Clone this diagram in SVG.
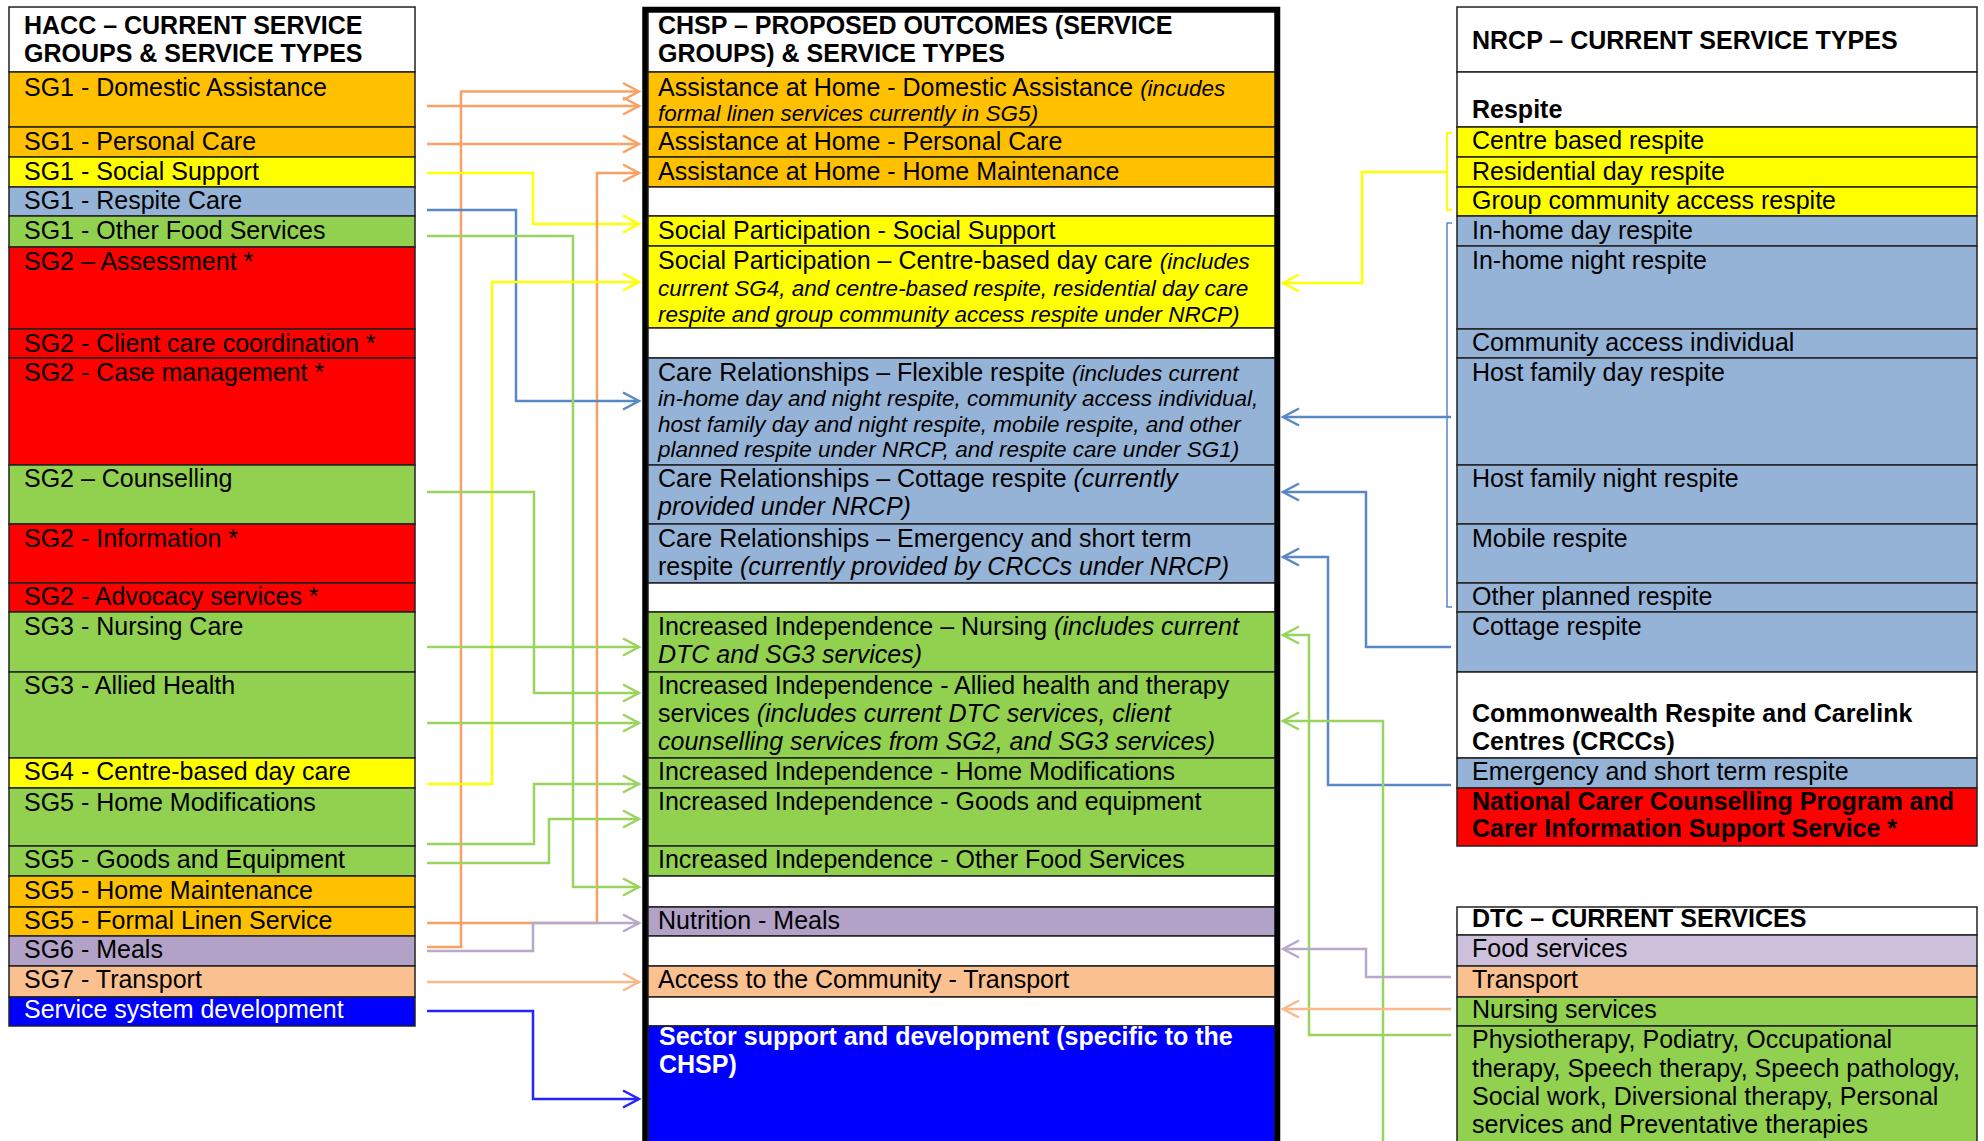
<svg xmlns="http://www.w3.org/2000/svg" width="1984" height="1141" viewBox="0 0 1984 1141">
<style>
text{font-family:"Liberation Sans",Arial,sans-serif;font-size:25px;fill:#000}
.b{font-weight:bold}
.i{font-style:italic;font-size:22.5px}
.il{font-style:italic}
.w{fill:#fff}
.row{stroke:#222;stroke-width:1.5}
.or{fill:#FFC000}.ye{fill:#FFFF00}.bl{fill:#95B3D7}.gr{fill:#92D050}.rd{fill:#FF0000}.pu{fill:#B3A2C7}.pe{fill:#FAC090}.db{fill:#0000FF}.lv{fill:#CCC0DA}.wh{fill:#fff}
.c{fill:none;stroke-width:2.5}
.cor{stroke:#F9A062}.cye{stroke:#FFFF00}.cbl{stroke:#5A88C4}.cgr{stroke:#98D45E}.cpu{stroke:#B8A8CC}.cpe{stroke:#FAB98A}.cdb{stroke:#2424FF}
</style>
<defs>
<marker id="m-or" markerUnits="userSpaceOnUse" markerWidth="20" markerHeight="20" viewBox="0 0 20 20" refX="17" refY="10" orient="auto" overflow="visible"><path d="M1 1.5 L17 10 L1 18.5" fill="none" stroke="#F9A062" stroke-width="2.5"/></marker>
<marker id="m-ye" markerUnits="userSpaceOnUse" markerWidth="20" markerHeight="20" viewBox="0 0 20 20" refX="17" refY="10" orient="auto" overflow="visible"><path d="M1 1.5 L17 10 L1 18.5" fill="none" stroke="#FFFF00" stroke-width="2.5"/></marker>
<marker id="m-bl" markerUnits="userSpaceOnUse" markerWidth="20" markerHeight="20" viewBox="0 0 20 20" refX="17" refY="10" orient="auto" overflow="visible"><path d="M1 1.5 L17 10 L1 18.5" fill="none" stroke="#5A88C4" stroke-width="2.5"/></marker>
<marker id="m-gr" markerUnits="userSpaceOnUse" markerWidth="20" markerHeight="20" viewBox="0 0 20 20" refX="17" refY="10" orient="auto" overflow="visible"><path d="M1 1.5 L17 10 L1 18.5" fill="none" stroke="#98D45E" stroke-width="2.5"/></marker>
<marker id="m-pu" markerUnits="userSpaceOnUse" markerWidth="20" markerHeight="20" viewBox="0 0 20 20" refX="17" refY="10" orient="auto" overflow="visible"><path d="M1 1.5 L17 10 L1 18.5" fill="none" stroke="#B8A8CC" stroke-width="2.5"/></marker>
<marker id="m-pe" markerUnits="userSpaceOnUse" markerWidth="20" markerHeight="20" viewBox="0 0 20 20" refX="17" refY="10" orient="auto" overflow="visible"><path d="M1 1.5 L17 10 L1 18.5" fill="none" stroke="#FAB98A" stroke-width="2.5"/></marker>
<marker id="m-db" markerUnits="userSpaceOnUse" markerWidth="20" markerHeight="20" viewBox="0 0 20 20" refX="17" refY="10" orient="auto" overflow="visible"><path d="M1 1.5 L17 10 L1 18.5" fill="none" stroke="#2424FF" stroke-width="2.5"/></marker>
</defs>
<rect width="1984" height="1141" fill="#fff"/>

<!-- LEFT: HACC -->
<g id="hacc">
<g id="hacc-header"><rect class="row wh" x="9" y="7" width="406" height="65"/><text class="b" x="24" y="34">HACC – CURRENT SERVICE</text><text class="b" x="24" y="62">GROUPS &amp; SERVICE TYPES</text></g>
<g id="hacc-sg1-da"><rect class="row or" x="9" y="72" width="406" height="55"/><text x="24" y="96">SG1 - Domestic Assistance</text></g>
<g id="hacc-sg1-pc"><rect class="row or" x="9" y="127" width="406" height="30"/><text x="24" y="150">SG1 - Personal Care</text></g>
<g id="hacc-sg1-ss"><rect class="row ye" x="9" y="157" width="406" height="30"/><text x="24" y="180">SG1 - Social Support</text></g>
<g id="hacc-sg1-rc"><rect class="row bl" x="9" y="187" width="406" height="29"/><text x="24" y="209">SG1 - Respite Care</text></g>
<g id="hacc-sg1-ofs"><rect class="row gr" x="9" y="216" width="406" height="31"/><text x="24" y="239">SG1 - Other Food Services</text></g>
<g id="hacc-sg2-as"><rect class="row rd" x="9" y="247" width="406" height="82"/><text x="24" y="270">SG2 – Assessment *</text></g>
<g id="hacc-sg2-ccc"><rect class="row rd" x="9" y="329" width="406" height="29"/><text x="24" y="352">SG2 - Client care coordination *</text></g>
<g id="hacc-sg2-cm"><rect class="row rd" x="9" y="358" width="406" height="107"/><text x="24" y="381">SG2 - Case management *</text></g>
<g id="hacc-sg2-co"><rect class="row gr" x="9" y="465" width="406" height="59"/><text x="24" y="487">SG2 – Counselling</text></g>
<g id="hacc-sg2-in"><rect class="row rd" x="9" y="524" width="406" height="59"/><text x="24" y="547">SG2 - Information *</text></g>
<g id="hacc-sg2-ad"><rect class="row rd" x="9" y="583" width="406" height="29"/><text x="24" y="605">SG2 - Advocacy services *</text></g>
<g id="hacc-sg3-nc"><rect class="row gr" x="9" y="612" width="406" height="60"/><text x="24" y="635">SG3 - Nursing Care</text></g>
<g id="hacc-sg3-ah"><rect class="row gr" x="9" y="672" width="406" height="86"/><text x="24" y="694">SG3 - Allied Health</text></g>
<g id="hacc-sg4"><rect class="row ye" x="9" y="758" width="406" height="30"/><text x="24" y="780">SG4 - Centre-based day care</text></g>
<g id="hacc-sg5-hm"><rect class="row gr" x="9" y="788" width="406" height="58"/><text x="24" y="811">SG5 - Home Modifications</text></g>
<g id="hacc-sg5-ge"><rect class="row gr" x="9" y="846" width="406" height="30"/><text x="24" y="868">SG5 - Goods and Equipment</text></g>
<g id="hacc-sg5-hmn"><rect class="row or" x="9" y="876" width="406" height="31"/><text x="24" y="899">SG5 - Home Maintenance</text></g>
<g id="hacc-sg5-fl"><rect class="row or" x="9" y="907" width="406" height="29"/><text x="24" y="929">SG5 - Formal Linen Service</text></g>
<g id="hacc-sg6"><rect class="row pu" x="9" y="936" width="406" height="30"/><text x="24" y="958">SG6 - Meals</text></g>
<g id="hacc-sg7"><rect class="row pe" x="9" y="966" width="406" height="31"/><text x="24" y="988">SG7 - Transport</text></g>
<g id="hacc-ssd"><rect class="row db" x="9" y="997" width="406" height="29"/><text class="w" x="24" y="1018">Service system development</text></g>
</g>

<!-- MIDDLE: CHSP -->
<g id="chsp">
<g id="chsp-header"><rect class="row wh" x="648" y="12" width="627" height="60"/><text class="b" x="658" y="34">CHSP – PROPOSED OUTCOMES (SERVICE</text><text class="b" x="658" y="62">GROUPS) &amp; SERVICE TYPES</text></g>
<g id="chsp-ah-da"><rect class="row or" x="648" y="72" width="627" height="55"/><text x="658" y="96">Assistance at Home - Domestic Assistance <tspan class="i">(incudes</tspan></text><text class="i" x="658" y="121">formal linen services currently in SG5)</text></g>
<g id="chsp-ah-pc"><rect class="row or" x="648" y="127" width="627" height="30"/><text x="658" y="150">Assistance at Home - Personal Care</text></g>
<g id="chsp-ah-hm"><rect class="row or" x="648" y="157" width="627" height="30"/><text x="658" y="180">Assistance at Home - Home Maintenance</text></g>
<g id="chsp-blank1"><rect class="row wh" x="648" y="187" width="627" height="29"/></g>
<g id="chsp-sp-ss"><rect class="row ye" x="648" y="216" width="627" height="30"/><text x="658" y="239">Social Participation - Social Support</text></g>
<g id="chsp-sp-cb"><rect class="row ye" x="648" y="246" width="627" height="82"/><text x="658" y="269">Social Participation – Centre-based day care <tspan class="i">(includes</tspan></text><text class="i" x="658" y="296">current SG4, and centre-based respite, residential day care</text><text class="i" x="658" y="322">respite and group community access respite under NRCP)</text></g>
<g id="chsp-blank2"><rect class="row wh" x="648" y="328" width="627" height="30"/></g>
<g id="chsp-cr-fr"><rect class="row bl" x="648" y="358" width="627" height="107"/><text x="658" y="381">Care Relationships – Flexible respite <tspan class="i">(includes current</tspan></text><text class="i" x="658" y="406">in-home day and night respite, community access individual,</text><text class="i" x="658" y="432">host family day and night respite, mobile respite, and other</text><text class="i" x="658" y="457">planned respite under NRCP, and respite care under SG1)</text></g>
<g id="chsp-cr-cr"><rect class="row bl" x="648" y="465" width="627" height="59"/><text x="658" y="487">Care Relationships – Cottage respite <tspan class="il">(currently</tspan></text><text class="il" x="658" y="515">provided under NRCP)</text></g>
<g id="chsp-cr-es"><rect class="row bl" x="648" y="524" width="627" height="59"/><text x="658" y="547">Care Relationships – Emergency and short term</text><text x="658" y="575">respite <tspan class="il">(currently provided by CRCCs under NRCP)</tspan></text></g>
<g id="chsp-blank3"><rect class="row wh" x="648" y="583" width="627" height="29"/></g>
<g id="chsp-ii-n"><rect class="row gr" x="648" y="612" width="627" height="60"/><text x="658" y="635">Increased Independence – Nursing <tspan class="il">(includes current</tspan></text><text class="il" x="658" y="663">DTC and SG3 services)</text></g>
<g id="chsp-ii-ah"><rect class="row gr" x="648" y="672" width="627" height="86"/><text x="658" y="694">Increased Independence - Allied health and therapy</text><text x="658" y="722">services <tspan class="il">(includes current DTC services, client</tspan></text><text class="il" x="658" y="750">counselling services from SG2, and SG3 services)</text></g>
<g id="chsp-ii-hm"><rect class="row gr" x="648" y="758" width="627" height="30"/><text x="658" y="780">Increased Independence - Home Modifications</text></g>
<g id="chsp-ii-ge"><rect class="row gr" x="648" y="788" width="627" height="58"/><text x="658" y="810">Increased Independence - Goods and equipment</text></g>
<g id="chsp-ii-of"><rect class="row gr" x="648" y="846" width="627" height="30"/><text x="658" y="868">Increased Independence - Other Food Services</text></g>
<g id="chsp-blank4"><rect class="row wh" x="648" y="876" width="627" height="31"/></g>
<g id="chsp-nm"><rect class="row pu" x="648" y="907" width="627" height="29"/><text x="658" y="929">Nutrition - Meals</text></g>
<g id="chsp-blank5"><rect class="row wh" x="648" y="936" width="627" height="30"/></g>
<g id="chsp-ac"><rect class="row pe" x="648" y="966" width="627" height="31"/><text x="658" y="988">Access to the Community - Transport</text></g>
<g id="chsp-blank6"><rect class="row wh" x="648" y="997" width="627" height="29"/></g>
<g id="chsp-ssd"><rect class="row db" x="648" y="1026" width="627" height="125"/><text class="b w" x="659" y="1045">Sector support and development (specific to the</text><text class="b w" x="659" y="1073">CHSP)</text></g>
<rect x="645" y="9.5" width="632.5" height="1150" fill="none" stroke="#000" stroke-width="5.5"/>
</g>

<!-- RIGHT: NRCP -->
<g id="nrcp">
<g id="nrcp-header"><rect class="row wh" x="1457" y="7" width="520" height="65"/><text class="b" x="1472" y="49">NRCP – CURRENT SERVICE TYPES</text></g>
<g id="nrcp-respite"><rect class="row wh" x="1457" y="72" width="520" height="55"/><text class="b" x="1472" y="118">Respite</text></g>
<g id="nrcp-cbr"><rect class="row ye" x="1457" y="127" width="520" height="30"/><text x="1472" y="149">Centre based respite</text></g>
<g id="nrcp-rdr"><rect class="row ye" x="1457" y="157" width="520" height="30"/><text x="1472" y="180">Residential day respite</text></g>
<g id="nrcp-gcar"><rect class="row ye" x="1457" y="187" width="520" height="29"/><text x="1472" y="209">Group community access respite</text></g>
<g id="nrcp-ihdr"><rect class="row bl" x="1457" y="216" width="520" height="30"/><text x="1472" y="239">In-home day respite</text></g>
<g id="nrcp-ihnr"><rect class="row bl" x="1457" y="246" width="520" height="83"/><text x="1472" y="269">In-home night respite</text></g>
<g id="nrcp-cai"><rect class="row bl" x="1457" y="329" width="520" height="29"/><text x="1472" y="351">Community access individual</text></g>
<g id="nrcp-hfdr"><rect class="row bl" x="1457" y="358" width="520" height="107"/><text x="1472" y="381">Host family day respite</text></g>
<g id="nrcp-hfnr"><rect class="row bl" x="1457" y="465" width="520" height="59"/><text x="1472" y="487">Host family night respite</text></g>
<g id="nrcp-mr"><rect class="row bl" x="1457" y="524" width="520" height="59"/><text x="1472" y="547">Mobile respite</text></g>
<g id="nrcp-opr"><rect class="row bl" x="1457" y="583" width="520" height="29"/><text x="1472" y="605">Other planned respite</text></g>
<g id="nrcp-cr"><rect class="row bl" x="1457" y="612" width="520" height="60"/><text x="1472" y="635">Cottage respite</text></g>
<g id="nrcp-crcc"><rect class="row wh" x="1457" y="672" width="520" height="86"/><text class="b" x="1472" y="722">Commonwealth Respite and Carelink</text><text class="b" x="1472" y="750">Centres (CRCCs)</text></g>
<g id="nrcp-esr"><rect class="row bl" x="1457" y="758" width="520" height="30"/><text x="1472" y="780">Emergency and short term respite</text></g>
<g id="nrcp-nccp"><rect class="row rd" x="1457" y="788" width="520" height="58"/><text class="b" x="1472" y="810">National Carer Counselling Program and</text><text class="b" x="1472" y="837">Carer Information Support Service *</text></g>
</g>

<!-- RIGHT: DTC -->
<g id="dtc">
<g id="dtc-header"><rect class="row wh" x="1457" y="907" width="520" height="28"/><text class="b" x="1472" y="927">DTC – CURRENT SERVICES</text></g>
<g id="dtc-food"><rect class="row lv" x="1457" y="935" width="520" height="31"/><text x="1472" y="957">Food services</text></g>
<g id="dtc-transport"><rect class="row pe" x="1457" y="966" width="520" height="31"/><text x="1472" y="988">Transport</text></g>
<g id="dtc-nursing"><rect class="row gr" x="1457" y="997" width="520" height="29"/><text x="1472" y="1018">Nursing services</text></g>
<g id="dtc-therapies"><rect class="row gr" x="1457" y="1026" width="520" height="125"/><text x="1472" y="1048">Physiotherapy, Podiatry, Occupational</text><text x="1472" y="1077">therapy, Speech therapy, Speech pathology,</text><text x="1472" y="1105">Social work, Diversional therapy, Personal</text><text x="1472" y="1133">services and Preventative therapies</text></g>
</g>

<!-- CONNECTORS -->
<g id="connectors">
<path class="c cor" d="M427 947 H461 V91.5 H639" marker-end="url(#m-or)"/>
<path class="c cor" d="M427 106 H639" marker-end="url(#m-or)"/>
<path class="c cor" d="M427 144 H639" marker-end="url(#m-or)"/>
<path class="c cye" d="M427 173 H533 V224 H639" marker-end="url(#m-ye)"/>
<path class="c cor" d="M427 923 H597 V173 H639" marker-end="url(#m-or)"/>
<path class="c cbl" d="M427 210 H516 V401 H639" marker-end="url(#m-bl)"/>
<path class="c cgr" d="M427 236 H573 V887 H639" marker-end="url(#m-gr)"/>
<path class="c cye" d="M427 784 H492 V282 H639" marker-end="url(#m-ye)"/>
<path class="c cgr" d="M427 492 H534 V693 H639" marker-end="url(#m-gr)"/>
<path class="c cgr" d="M427 647 H639" marker-end="url(#m-gr)"/>
<path class="c cgr" d="M427 723 H639" marker-end="url(#m-gr)"/>
<path class="c cgr" d="M427 844 H534 V784 H639" marker-end="url(#m-gr)"/>
<path class="c cgr" d="M427 863 H549 V819 H639" marker-end="url(#m-gr)"/>
<path class="c cpu" d="M427 951 H533 V923 H639" marker-end="url(#m-pu)"/>
<path class="c cpe" d="M427 982 H639" marker-end="url(#m-pe)"/>
<path class="c cdb" d="M427 1011 H533 V1099 H639" marker-end="url(#m-db)"/>

<path d="M1452 133 H1447 V210 H1452" fill="none" stroke="#FFFF00" stroke-width="2"/>
<path class="c cye" d="M1447 172 H1362 V283 H1283" marker-end="url(#m-ye)"/>
<path d="M1452 223 H1447 V607 H1452" fill="none" stroke="#5A88C4" stroke-width="1.5"/>
<path class="c cbl" d="M1451 417 H1283" marker-end="url(#m-bl)"/>
<path class="c cbl" d="M1451 647 H1366 V492 H1283" marker-end="url(#m-bl)"/>
<path class="c cbl" d="M1451 785 H1328 V557 H1283" marker-end="url(#m-bl)"/>
<path class="c cgr" d="M1451 1035 H1309 V635 H1283" marker-end="url(#m-gr)"/>
<path class="c cgr" d="M1383 1145 V721 H1283" marker-end="url(#m-gr)"/>
<path class="c cpu" d="M1451 977 H1366 V949 H1283" marker-end="url(#m-pu)"/>
<path class="c cpe" d="M1451 1009 H1283" marker-end="url(#m-pe)"/>
</g>
</svg>
